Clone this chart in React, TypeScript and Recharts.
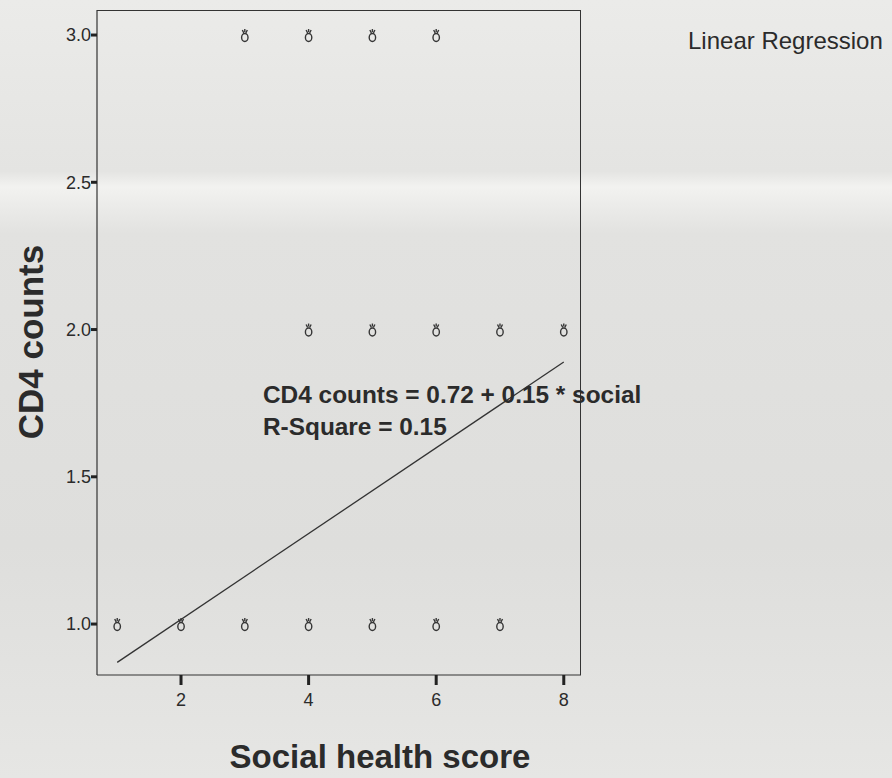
import React from 'react';
import { ScatterChart, Scatter, XAxis, YAxis } from 'recharts';

// observed (score, CD4 count) pairs, many overlapping
const obsX = [3, 4, 5, 6, 4, 5, 6, 7, 8, 1, 2, 3, 4, 5, 6, 7];
const obsY = [3, 3, 3, 3, 2, 2, 2, 2, 2, 1, 1, 1, 1, 1, 1, 1];

// fitted regression line end points
const fitX = [1, 8];
const fitY = [0.87, 1.89];

const xTicks = [2, 4, 6, 8];
const yTicks = [1.0, 1.5, 2.0, 2.5, 3.0];

const points = obsX.map((x, i) => ({ x, y: obsY[i] }));
const fitLine = fitX.map((x, i) => ({ x, y: fitY[i] }));

const FONT = '"Liberation Sans", Arial, sans-serif';
const INK = '#2b2b2b';

// overlapping-case glyph like the SPSS sunflower marker
const Glyph = (props: any) => {
  const { cx, cy } = props;
  if (cx == null || cy == null) return null;
  return (
    <g stroke="#363636" fill="none" strokeWidth={1.4}>
      <ellipse cx={cx} cy={cy + 2.5} rx={3.2} ry={4} />
      <line x1={cx - 2.5} y1={cy - 5} x2={cx - 1} y2={cy - 2} />
      <line x1={cx + 2.5} y1={cy - 5} x2={cx + 1} y2={cy - 2} />
      <line x1={cx} y1={cy - 6} x2={cx} y2={cy - 3} />
    </g>
  );
};

const App: React.FC = () => {
  return (
    <div
      style={{
        position: 'absolute',
        left: 0,
        top: 0,
        width: 892,
        height: 778,
        background: 'linear-gradient(180deg, #ebebe9 0%, #e4e4e2 22%, #f2f2f0 24%, #e2e2e0 30%, #dededc 70%, #e6e6e4 100%)',
        fontFamily: FONT,
        overflow: 'hidden',
      }}
    >
      <ScatterChart width={892} height={778} margin={{ top: 10, right: 311, bottom: 63, left: 47 }}>
        <XAxis
          type="number"
          dataKey="x"
          domain={[0.683, 8.27]}
          ticks={xTicks}
          allowDataOverflow
          height={40}
          axisLine={{ stroke: '#333', strokeWidth: 1.2 }}
          tickLine={{ stroke: '#222', strokeWidth: 3 }}
          tickSize={10}
          tickMargin={8}
          tick={{ fill: INK, fontSize: 18, fontFamily: FONT }}
        />
        <YAxis
          type="number"
          dataKey="y"
          domain={[0.827, 3.085]}
          ticks={yTicks}
          allowDataOverflow
          width={50}
          axisLine={{ stroke: '#333', strokeWidth: 1.2 }}
          tickLine={{ stroke: '#222', strokeWidth: 3 }}
          tickSize={6}
          tickMargin={0}
          tickFormatter={(v: number) => v.toFixed(1)}
          tick={{ fill: INK, fontSize: 18, fontFamily: FONT }}
        />
        <Scatter data={points} shape={Glyph} isAnimationActive={false} />
        <Scatter
          data={fitLine}
          line={{ stroke: '#333', strokeWidth: 1.3 }}
          shape={() => null}
          isAnimationActive={false}
        />
      </ScatterChart>

      {/* plot frame (top and right edges) */}
      <div
        style={{
          position: 'absolute',
          left: 97,
          top: 10,
          width: 484,
          height: 665,
          borderTop: '1.2px solid #333',
          borderRight: '1.2px solid #333',
          boxSizing: 'border-box',
          pointerEvents: 'none',
        }}
      />

      <div style={{ position: 'absolute', left: 688, top: 27, fontSize: 24, color: INK, whiteSpace: 'nowrap' }}>
        Linear Regression
      </div>

      <div
        style={{
          position: 'absolute',
          left: 263,
          top: 379,
          fontSize: 24.4,
          fontWeight: 'bold',
          color: INK,
          lineHeight: '32px',
          whiteSpace: 'nowrap',
        }}
      >
        <div>CD4 counts = 0.72 + 0.15 * social</div>
        <div>R-Square = 0.15</div>
      </div>

      <div
        style={{
          position: 'absolute',
          left: 31,
          top: 342,
          transform: 'translate(-50%, -50%) rotate(-90deg)',
          fontSize: 35,
          fontWeight: 'bold',
          color: INK,
          whiteSpace: 'nowrap',
        }}
      >
        CD4 counts
      </div>
      <div
        style={{
          position: 'absolute',
          left: 380,
          top: 757,
          transform: 'translate(-50%, -50%)',
          fontSize: 33,
          fontWeight: 'bold',
          color: INK,
          whiteSpace: 'nowrap',
        }}
      >
        Social health score
      </div>
    </div>
  );
};

export default App;
